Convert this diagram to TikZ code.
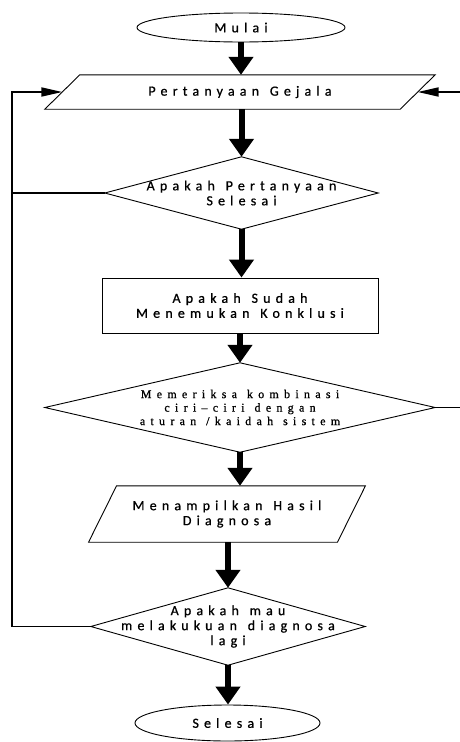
\documentclass[tikz,border=0pt]{standalone}
\usepackage{fontspec}
\setmainfont{Carlito}[LetterSpace=37,WordSpace=1.3,FakeBold=0.8]
\newfontfamily\serifF{Liberation Serif}[LetterSpace=44,WordSpace=1.2,FakeBold=0.8]
\usetikzlibrary{shapes.geometric,arrows.meta,calc}
\begin{document}
\begin{tikzpicture}[x=1pt,y=-1pt,
  txt/.style={font=\fontsize{14}{15}\selectfont, align=center, inner sep=0pt},
  shp/.style={draw=black, line width=0.9pt},
  bigarrow/.style={line width=6pt, -{Triangle[width=24pt,length=18pt]}},
  fb/.style={line width=1.8pt},
  fbarrow/.style={line width=1.8pt, -{Triangle[width=9pt,length=21pt]}}]
\useasboundingbox[fill=white] (0,0) rectangle (460,742);
% nodes
\node[ellipse, shp, txt, minimum width=208pt, minimum height=29pt] (m) at (241,27.5) {Mulai};
\node[txt, minimum width=355pt, minimum height=34pt] (p1) at (240,92) {Pertanyaan Gejala};
\draw[shp] ([xshift=17.5pt]p1.north west) -- ([xshift=17.5pt]p1.north east) -- ([xshift=-17.5pt]p1.south east) -- ([xshift=-17.5pt]p1.south west) -- cycle;
\node[txt, minimum width=273pt, minimum height=72pt] (d1) at (241.5,193) {Apakah Pertanyaan\\Selesai};
\draw[shp] (d1.north) -- (d1.east) -- (d1.south) -- (d1.west) -- cycle;
\node[txt, shp, minimum width=276pt, minimum height=55pt] (r) at (240,305.5) {Apakah Sudah\\Menemukan Konklusi};
\node[inner sep=0pt, align=center, font=\serifF\fontsize{12}{13.5}\selectfont, minimum width=390pt, minimum height=89pt] (d2) at (240,407.5) {Memeriksa kombinasi\\ciri–ciri dengan\\aturan /kaidah sistem};
\draw[shp] (d2.north) -- (d2.east) -- (d2.south) -- (d2.west) -- cycle;
\node[txt, minimum width=248.5pt, minimum height=56pt] (p2) at (227,514) {Menampilkan Hasil\\Diagnosa};
\draw[shp] ([xshift=14pt]p2.north west) -- ([xshift=14pt]p2.north east) -- ([xshift=-14pt]p2.south east) -- ([xshift=-14pt]p2.south west) -- cycle;
\node[txt, minimum width=274pt, minimum height=77pt] (d3) at (228,626.5) {Apakah mau\\melakukuan diagnosa\\lagi};
\draw[shp] (d3.north) -- (d3.east) -- (d3.south) -- (d3.west) -- cycle;
\node[ellipse, shp, txt, minimum width=185pt, minimum height=36pt] (s) at (227.5,723) {Selesai};
% main flow arrows
\draw[bigarrow] (m.south) -- (m.south |- p1.north);
\draw[bigarrow] (p1.south -| d1.north) -- (d1.north);
\draw[bigarrow] (d1.south) -- (d1.south |- r.north);
\draw[bigarrow] (r.south) -- (r.south |- d2.north);
\draw[bigarrow] (d2.south) -- (d2.south |- p2.north);
\draw[bigarrow] (p2.south -| d3.north) -- (d3.north);
\draw[bigarrow] (d3.south) -- (d3.south |- s.north);
% feedback loops
\coordinate (L1) at (12,92);
\coordinate (R1) at (460,92);
\draw[fb] (d1.west) -- (d1.west -| L1);
\draw[fbarrow] (d3.west) -- (d3.west -| L1) -- (L1) -- (p1.west);
\draw[fb] (d2.east) -- (d2.east -| R1);
\draw[fbarrow] (R1) -- (p1.east);
\end{tikzpicture}
\end{document}
